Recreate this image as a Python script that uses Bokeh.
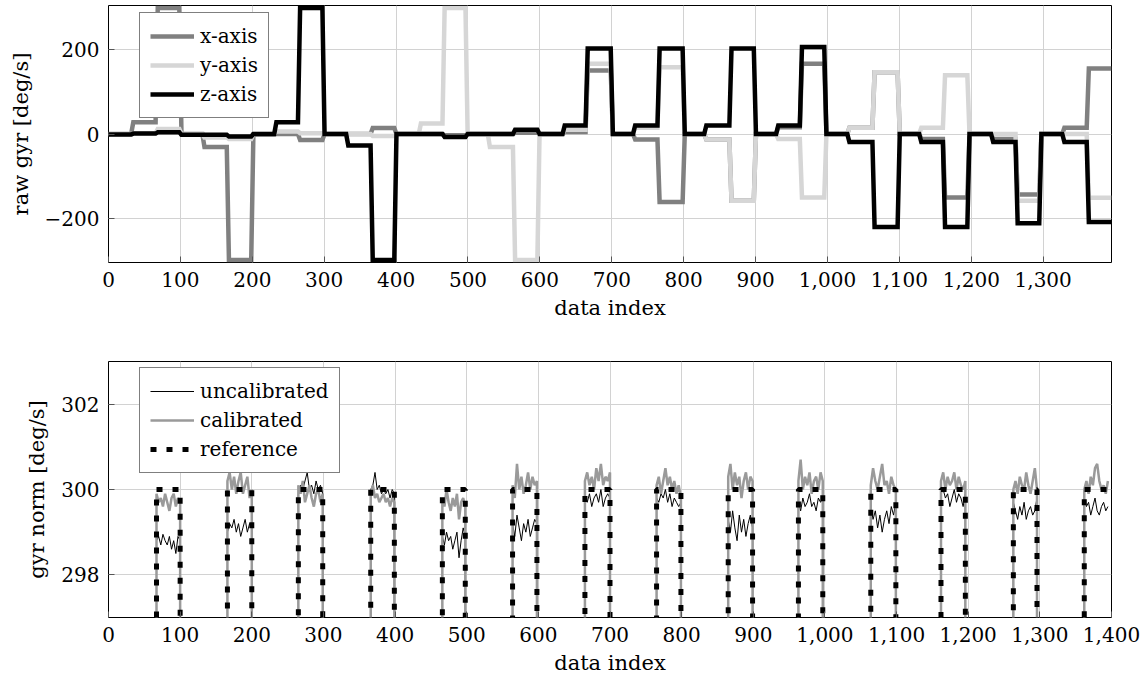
import numpy as np
from bokeh.plotting import figure
from bokeh.layouts import column
from bokeh.models import (FixedTicker, NumeralTickFormatter, CustomJSTickFormatter,
                          Legend, LegendItem, Range1d)
from bokeh.embed import file_html
from bokeh.resources import INLINE

FONT = "DejaVu Serif"

# ---------------- data: top panel (raw gyroscope, step levels per block) -------------
BLOCK_START = [0, 100, 200, 299, 399, 498, 598, 700, 800, 899, 997, 1099, 1196, 1296]
PRE_START = [33, 132, 232, 332, 433, 529, 633, 731, 830, 930, 1029, 1129, 1229, 1328]
ROT_START = [67, 166, 265, 366, 466, 564, 665, 765, 865, 963, 1064, 1162, 1263, 1362]
ROT_END = [100, 200, 299, 399, 498, 598, 700, 799, 899, 997, 1099, 1196, 1296, 1395]

# (rest, pre-step, rotation) level for each block
X_LEVELS = [(0, 28, 298), (0, -31, -298), (-1, 0, -14), (0, 0, 14), (0, 0, -3),
            (0, 0, 3), (0, 5, 150), (0, -13, -161), (0, -13, -158), (0, 16, 166),
            (0, 15, 146), (0, -12, -150), (0, -12, -143), (0, 15, 155)]
Y_LEVELS = [(0, 2, 12), (0, -8, -12), (0, 6, 2), (0, 0, -5), (0, 25, 298),
            (0, -31, -298), (0, 10, 166), (0, 15, 158), (0, -13, -158), (0, -12, -150),
            (0, 15, 146), (0, 15, 139), (0, 0, -158), (0, 0, -151)]
Z_LEVELS = [(-1, 1, 4), (-2, -2, -6), (0, 28, 298), (0, -27, -298), (0, 0, -7),
            (0, 0, 10), (0, 20, 202), (0, 20, 202), (0, 20, 202), (0, 20, 206),
            (0, -19, -220), (0, -19, -220), (0, -19, -211), (0, -19, -208)]

# ---------------- data: bottom panel (gyr norm during rotations) ---------------------
REF_LEVEL = 300
REST_NORM = 0
CAL = [
    [299.9, 299.7, 299.8, 299.6, 299.9, 299.7, 299.5, 299.8, 299.9, 299.6, 299.8, 299.7],
    [300.2, 300.4, 300.0, 300.3, 299.9, 300.2, 300.4, 299.9, 300.1, 300.3, 299.8, 300.0],
    [300.1, 299.9, 300.2, 299.7, 299.9, 300.1, 299.8, 299.6, 299.9, 300.0, 299.7, 299.9],
    [299.9, 300.1, 299.8, 299.9, 299.7, 299.8, 299.9, 299.7, 299.8, 299.6, 299.8, 299.7],
    [299.8, 299.6, 300.0, 299.7, 299.5, 299.8, 299.6, 299.9, 299.3, 299.7, 299.8, 299.6],
    [300.1, 299.8, 300.6, 300.0, 300.3, 299.9, 300.1, 300.4, 300.0, 300.3, 300.1, 300.2],
    [300.2, 300.4, 300.1, 300.3, 300.0, 300.5, 300.2, 300.6, 300.1, 300.3, 300.2, 300.4],
    [300.1, 300.3, 299.9, 300.2, 300.5, 300.1, 300.3, 300.0, 300.2, 299.9, 300.1, 299.8],
    [300.3, 300.6, 300.0, 300.4, 300.1, 300.3, 299.8, 300.2, 300.4, 300.0, 300.3, 300.2],
    [300.2, 300.7, 300.0, 300.3, 300.1, 300.4, 299.9, 300.2, 300.3, 300.0, 300.4, 300.2],
    [300.1, 300.5, 300.2, 300.0, 300.3, 300.6, 300.1, 300.2, 299.9, 300.3, 300.1, 300.0],
    [300.2, 300.4, 300.0, 300.3, 300.1, 300.2, 300.4, 300.0, 300.3, 300.1, 300.0, 300.2],
    [300.0, 300.2, 299.9, 300.3, 300.1, 300.0, 300.4, 300.1, 299.9, 300.2, 300.5, 300.0],
    [300.0, 300.2, 299.9, 300.3, 300.1, 300.5, 300.6, 300.2, 300.0, 300.1, 299.9, 300.2],
]
UNC = [
    [298.8, 298.9, 298.7, 298.95, 298.8, 298.7, 298.9, 298.6, 298.8, 298.5, 298.9, 298.8],
    [299.0, 299.2, 299.1, 299.3, 299.0, 299.2, 298.9, 299.1, 299.3, 299.0, 299.2, 299.1],
    [299.9, 300.1, 300.0, 300.2, 300.4, 300.0, 300.1, 299.9, 300.2, 300.0, 300.1, 299.9],
    [300.0, 300.1, 300.4, 300.0, 300.1, 299.9, 300.0, 299.9, 300.0, 299.8, 300.0, 299.9],
    [298.9, 298.7, 299.0, 298.8, 298.9, 298.6, 298.8, 299.0, 298.4, 298.8, 299.1, 298.9],
    [299.2, 298.9, 299.4, 299.1, 298.8, 299.2, 299.0, 299.3, 298.9, 299.1, 299.3, 299.2],
    [299.9, 299.7, 299.9, 299.6, 299.8, 299.9, 299.7, 300.0, 299.6, 299.8, 299.9, 299.8],
    [299.8, 299.7, 299.9, 299.8, 300.0, 299.7, 299.9, 299.6, 299.8, 299.7, 299.6, 299.7],
    [299.3, 299.0, 299.5, 299.1, 298.8, 299.4, 299.0, 299.3, 298.9, 299.2, 299.4, 299.1],
    [299.7, 299.5, 299.8, 299.6, 299.7, 299.9, 299.6, 299.7, 299.5, 299.8, 299.7, 299.8],
    [299.6, 299.3, 299.5, 299.1, 299.4, 299.0, 299.3, 299.5, 299.2, 299.6, 299.4, 299.7],
    [299.9, 300.0, 299.8, 299.9, 299.6, 299.8, 300.0, 299.7, 299.9, 299.8, 299.6, 299.9],
    [299.7, 299.5, 299.3, 299.6, 299.4, 299.7, 299.3, 299.5, 299.6, 299.4, 299.5, 299.8],
    [299.8, 299.6, 299.7, 299.4, 299.6, 299.8, 299.5, 299.4, 299.6, 299.7, 299.5, 299.6],
]

TOP_XTICKS = list(range(0, 1301, 100))
TOP_YTICKS = [-200, 0, 200]
BOT_XTICKS = list(range(0, 1401, 100))
BOT_YTICKS = [298, 300, 302]


def step_line(levels):
    xs, ys, prev = [], [], None
    for k in range(len(BLOCK_START)):
        for b, v in zip((BLOCK_START[k], PRE_START[k], ROT_START[k]), levels[k]):
            if prev is None:
                xs.append(b); ys.append(v)
            else:
                xs += [b - 1.5, b + 1.5]; ys += [prev, v]
            prev = v
    xs.append(ROT_END[-1]); ys.append(prev)
    return xs, ys


def norm_line(series):
    xs, ys = [], []
    last = len(series) - 1
    for k, vals in enumerate(series):
        s, e = ROT_START[k], ROT_END[k]
        xk = list(np.linspace(s, e, len(vals)))
        xs += [s] + xk
        ys += [REST_NORM] + list(vals)
        if k < last:
            xs.append(e); ys.append(REST_NORM)
    return xs, ys


def ref_line():
    xs, ys = [], []
    last = len(ROT_START) - 1
    for k in range(len(ROT_START)):
        s, e = ROT_START[k], ROT_END[k]
        xs += [s, s, e]; ys += [REST_NORM, REF_LEVEL, REF_LEVEL]
        if k < last:
            xs.append(e); ys.append(REST_NORM)
    return xs, ys


MINUS_FMT = CustomJSTickFormatter(
    code="return tick < 0 ? '\u2212' + Math.abs(tick) : String(tick);")


def style(p, xticks, yticks, ylabel):
    p.outline_line_color = "black"
    p.outline_line_width = 1
    p.background_fill_color = "white"
    p.xaxis.ticker = FixedTicker(ticks=xticks)
    p.yaxis.ticker = FixedTicker(ticks=yticks)
    p.xgrid.ticker = FixedTicker(ticks=xticks)
    p.ygrid.ticker = FixedTicker(ticks=yticks)
    p.grid.grid_line_color = "#d2d2d2"
    p.grid.grid_line_width = 1
    p.xaxis.formatter = NumeralTickFormatter(format="0,0")
    p.yaxis.formatter = MINUS_FMT
    p.xaxis.axis_label = "data index"
    p.yaxis.axis_label = ylabel
    for ax in list(p.xaxis) + list(p.yaxis):
        ax.axis_line_color = None
        ax.major_tick_in = 6
        ax.major_tick_out = 0
        ax.major_tick_line_color = "#555555"
        ax.minor_tick_line_color = None
        ax.major_label_text_font = FONT
        ax.major_label_text_font_size = "20px"
        ax.major_label_text_color = "black"
        ax.axis_label_text_font = FONT
        ax.axis_label_text_font_size = "21px"
        ax.axis_label_text_font_style = "normal"
        ax.axis_label_text_color = "black"
    p.xaxis.major_label_standoff = 9
    p.yaxis.major_label_standoff = 9
    p.xaxis.axis_label_standoff = 6
    p.yaxis.axis_label_standoff = 9


def make_legend(items):
    return Legend(items=items, location=(31, 144), margin=0,
                  label_text_font=FONT, label_text_font_size="20px",
                  label_text_color="black",
                  glyph_width=44, glyph_height=26, label_height=26,
                  spacing=3, padding=10, label_standoff=6,
                  border_line_color="black", border_line_width=1,
                  background_fill_color="white", background_fill_alpha=1)


# ---------------- top figure ----------------
p1 = figure(frame_width=1003, frame_height=257, output_backend="svg",
            toolbar_location=None, x_range=Range1d(0, 1395), y_range=Range1d(-304, 304),
            min_border_left=108, min_border_right=36, min_border_top=5,
            min_border_bottom=78)
style(p1, TOP_XTICKS, TOP_YTICKS, "raw gyr [deg/s]")

xx, xy = step_line(X_LEVELS)
yx, yy = step_line(Y_LEVELS)
zx, zy = step_line(Z_LEVELS)
r_x = p1.line(xx, xy, line_color="#808080", line_width=4.5, line_join="miter")
r_y = p1.line(yx, yy, line_color="#d6d6d6", line_width=4.5, line_join="miter")
r_z = p1.line(zx, zy, line_color="black", line_width=4.5, line_join="miter")
p1.add_layout(make_legend([LegendItem(label="x-axis", renderers=[r_x]),
                           LegendItem(label="y-axis", renderers=[r_y]),
                           LegendItem(label="z-axis", renderers=[r_z])]))

# ---------------- bottom figure ----------------
p2 = figure(frame_width=1003, frame_height=256, output_backend="svg",
            toolbar_location=None, x_range=Range1d(0, 1400), y_range=Range1d(297, 303),
            min_border_left=108, min_border_right=36, min_border_top=21,
            min_border_bottom=59)
style(p2, BOT_XTICKS, BOT_YTICKS, "gyr norm [deg/s]")

ux, uy = norm_line(UNC)
cx, cy = norm_line(CAL)
rx, ry = ref_line()
r_u = p2.line(ux, uy, line_color="black", line_width=1)
r_c = p2.line(cx, cy, line_color="#9a9a9a", line_width=2.5)
r_r = p2.line(rx, ry, line_color="black", line_width=5, line_dash="6 10")
p2.add_layout(make_legend([LegendItem(label="uncalibrated", renderers=[r_u]),
                           LegendItem(label="calibrated", renderers=[r_c]),
                           LegendItem(label="reference", renderers=[r_r])]))

layout = column(p1, p2, spacing=0)
open("out.html", "w").write(file_html(layout, INLINE))
